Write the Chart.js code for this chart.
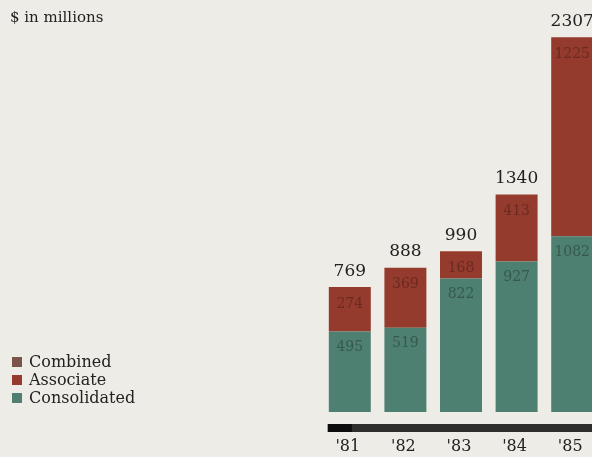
<!DOCTYPE html>
<html>
<head>
<meta charset="utf-8">
<title>Earnings</title>
<script src="https://cdn.jsdelivr.net/npm/chart.js@4/dist/chart.umd.min.js"></script>
<style>
    html, body { margin: 0; padding: 0; background: #eeece7; overflow: hidden; }
    body { width: 592px; height: 457px; position: relative; }
    #chart { position: absolute; left: 0; top: 0; }
</style>
</head>
<body>
<canvas id="chart" width="610" height="457"></canvas>
<script>
var years = ["'81", "'82", "'83", "'84", "'85"];
var consolidated = [495, 519, 822, 927, 1082];
var associate = [274, 369, 168, 413, 1225];
var totals = [769, 888, 990, 1340, 2307];
var legendLabels = ["Combined", "Associate", "Consolidated"];
var legendColors = ["#7a5548", "#953b2d", "#4d8070"];

var serif = "'DejaVu Serif', 'Liberation Serif', serif";

// labels, axis band and legend are painted after the bars
var decorations = {
    id: "decorations",
    afterDatasetsDraw: function (chart) {
        var ctx = chart.ctx;
        var x = chart.scales.x;
        var y = chart.scales.y;
        var bars0 = chart.getDatasetMeta(0).data;
        var bars1 = chart.getDatasetMeta(1).data;
        ctx.save();

        // heading
        ctx.fillStyle = "#222";
        ctx.font = "15px " + serif;
        ctx.textAlign = "left";
        ctx.textBaseline = "middle";
        ctx.fillText("$ in millions", 10, 18);

        ctx.textAlign = "center";
        ctx.textBaseline = "middle";
        for (var i = 0; i < years.length; i++) {
            var cx = x.getPixelForValue(i);

            // segment values
            ctx.font = "14px " + serif;
            ctx.fillStyle = "#6a2a20";
            ctx.fillText(String(associate[i]), cx, bars1[i].y + 17);
            ctx.fillStyle = "#36584d";
            ctx.fillText(String(consolidated[i]), cx, bars0[i].y + 16);

            // totals above each bar
            ctx.fillStyle = "#222";
            ctx.font = "17px " + serif;
            ctx.fillText(String(totals[i]), cx, y.getPixelForValue(totals[i]) - 16);

            // year labels
            ctx.font = "16px " + serif;
            ctx.fillText(years[i], cx - 2, 447);
        }

        // dark band under the bars
        var left = bars0[0].x - bars0[0].width / 2 - 1;
        ctx.fillStyle = "#2e2e2c";
        ctx.fillRect(left, 424, chart.width - left, 8);
        ctx.fillStyle = "#0c0c0c";
        ctx.fillRect(left, 424, 24, 8);

        // legend
        ctx.font = "16px " + serif;
        ctx.textAlign = "left";
        for (var j = 0; j < legendLabels.length; j++) {
            var ly = 362 + j * 18;
            ctx.fillStyle = legendColors[j];
            ctx.fillRect(12, ly - 5, 10, 10);
            ctx.fillStyle = "#222";
            ctx.fillText(legendLabels[j], 29, ly + 1);
        }
        ctx.restore();
    },
};

var ctx = document.getElementById("chart");
var myChart = new Chart(ctx, {
    type: "bar",
    data: {
        labels: years,
        datasets: [
            {
                label: "Consolidated",
                data: consolidated,
                backgroundColor: legendColors[2],
                borderWidth: 0,
            },
            {
                label: "Associate",
                data: associate,
                backgroundColor: legendColors[1],
                borderWidth: 0,
            },
        ],
    },
    options: {
        responsive: false,
        animation: false,
        devicePixelRatio: 1,
        layout: {
            padding: { left: 322, right: 10, top: 6, bottom: 45 },
        },
        datasets: {
            bar: { categoryPercentage: 1, barPercentage: 0.755 },
        },
        scales: {
            x: { stacked: true, display: false },
            y: { stacked: true, display: false, min: 0, max: 2500 },
        },
        plugins: {
            legend: { display: false },
            tooltip: { enabled: false },
        },
    },
    plugins: [decorations],
});
</script>
</body>
</html>
